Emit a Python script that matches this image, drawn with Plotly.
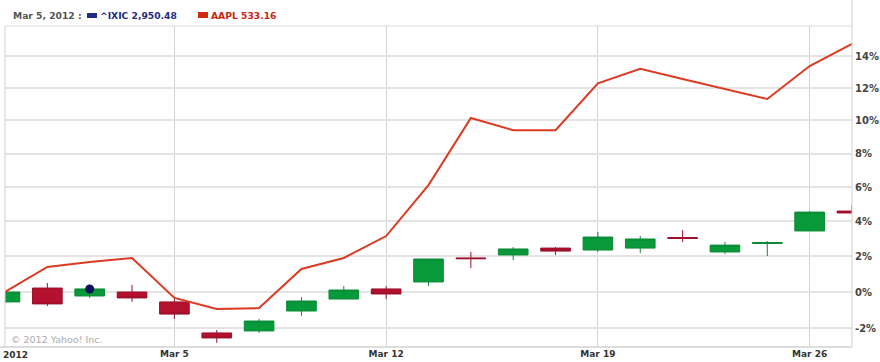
import math
import plotly.graph_objects as go

# ---- data (percent change) ----
dates = ["2012-02-28", "2012-02-29", "2012-03-01", "2012-03-02", "2012-03-05",
         "2012-03-06", "2012-03-07", "2012-03-08", "2012-03-09", "2012-03-12",
         "2012-03-13", "2012-03-14", "2012-03-15", "2012-03-16", "2012-03-19",
         "2012-03-20", "2012-03-21", "2012-03-22", "2012-03-23", "2012-03-26",
         "2012-03-27"]
ixic_open = [-0.55, 0.22, -0.22, 0.00, -0.55, -2.25, -2.14, -1.05, -0.39, 0.17,
             0.56, 1.91, 2.08, 2.47, 2.36, 2.47, 3.07, 2.25, 2.73, 3.45, 4.60]
ixic_high = [0.05, 0.50, 0.33, 0.39, -0.39, -2.09, -1.49, -0.28, 0.33, 0.33,
             1.85, 2.25, 2.53, 2.53, 3.39, 3.16, 3.50, 2.82, 2.87, 4.60, 4.95]
ixic_low = [-0.60, -0.78, -0.33, -0.55, -1.49, -2.79, -2.25, -1.32, -0.39, -0.39,
            0.33, 1.34, 1.79, 2.08, 2.25, 2.19, 2.82, 2.13, 2.02, 3.45, 4.43]
ixic_close = [0.00, -0.66, 0.17, -0.33, -1.22, -2.52, -1.60, -0.50, 0.11, -0.11,
              1.85, 1.87, 2.42, 2.30, 3.10, 2.99, 3.02, 2.64, 2.79, 4.54, 4.49]
aapl = [0.00, 1.40, 1.68, 1.91, -0.33, -0.94, -0.89, 1.29, 1.91, 3.16,
        6.12, 10.15, 9.41, 9.41, 12.30, 13.20, 12.57, 11.93, 11.32, 13.38, 14.78]
marker_date = ["2012-03-01"]
marker_val = [0.17]

tick_dates = ["2012-03-05", "2012-03-12", "2012-03-19", "2012-03-26"]
tick_text = ["Mar 5", "Mar 12", "Mar 19", "Mar 26"]
y_ticks = [-2, 0, 2, 4, 6, 8, 10, 12, 14]


def f(vals):
    return [1 + v / 100.0 for v in vals]


W, H = 880, 362
L, R, T, B = 5, 28, 26, 15
PW, PH = W - L - R, H - T - B


def px(x):
    return (x - L) / PW


def py(y):
    return (H - B - y) / PH


fig = go.Figure()
fig.add_trace(go.Candlestick(
    x=dates, open=f(ixic_open), high=f(ixic_high), low=f(ixic_low), close=f(ixic_close),
    increasing=dict(fillcolor="#08993B", line=dict(color="#0B8A36", width=1)),
    decreasing=dict(fillcolor="#B3112E", line=dict(color="#9A0F2C", width=1)),
    whiskerwidth=0, showlegend=False, hoverinfo="skip"))
fig.add_trace(go.Scatter(
    x=dates, y=f(aapl), mode="lines",
    line=dict(color="#DC3A22", width=2), showlegend=False, hoverinfo="skip"))
fig.add_trace(go.Scatter(
    x=marker_date, y=f(marker_val), mode="markers",
    marker=dict(color="#10105E", size=9), showlegend=False, hoverinfo="skip"))

lo, hi = 0.9699, 1.1593
fig.update_layout(
    width=W, height=H,
    margin=dict(l=L, r=R, t=T, b=B, autoexpand=False),
    paper_bgcolor="white", plot_bgcolor="white",
    font=dict(family="DejaVu Sans", color="#333"),
    boxgap=0.3, boxgroupgap=0,
    xaxis=dict(type="category", categoryorder="array", categoryarray=dates,
               range=[0, len(dates) - 1], rangeslider=dict(visible=False),
               tickvals=tick_dates, ticktext=tick_text, showgrid=True,
               gridcolor="#d4d4d4", gridwidth=1, zeroline=False, showline=False,
               ticks="", tickfont=dict(size=9, color="#333", weight="bold"),
               automargin=False, fixedrange=True),
    yaxis=dict(type="log", range=[math.log10(lo), math.log10(hi)], side="right",
               tickvals=f(y_ticks), ticktext=[f"{v}%" for v in y_ticks],
               showgrid=True, gridcolor="#e4e4e4", gridwidth=2, zeroline=False,
               showline=False, ticks="", ticklabelstandoff=2,
               tickfont=dict(size=10, color="#444", weight="bold"),
               automargin=False, fixedrange=True),
    shapes=[
        dict(type="line", xref="paper", yref="paper", x0=0, x1=0, y0=0, y1=1,
             line=dict(color="#d0d0d0", width=1)),
        dict(type="line", xref="paper", yref="paper", x0=0, x1=1, y0=1, y1=1,
             line=dict(color="#dddddd", width=1)),
        dict(type="line", xref="paper", yref="paper", x0=1, x1=1, y0=0, y1=py(0),
             line=dict(color="#d0d0d0", width=1)),
        dict(type="line", xref="paper", yref="paper", x0=px(0), x1=1, y0=0, y1=0,
             line=dict(color="#dddddd", width=2)),
        dict(type="rect", xref="paper", yref="paper", x0=px(87), x1=px(97),
             y0=py(18), y1=py(13), fillcolor="#1F2C80", line=dict(width=0)),
        dict(type="rect", xref="paper", yref="paper", x0=px(198), x1=px(208),
             y0=py(18), y1=py(12), fillcolor="#D02A10", line=dict(width=0)),
    ],
    annotations=[
        dict(text="Mar 5, 2012 :", xref="paper", yref="paper", x=px(11), y=py(15),
             xanchor="left", yanchor="middle", showarrow=False,
             font=dict(size=9.2, color="#555", weight="bold")),
        dict(text="^IXIC 2,950.48", xref="paper", yref="paper", x=px(98), y=py(15),
             xanchor="left", yanchor="middle", showarrow=False,
             font=dict(size=9.2, color="#1F2C80", weight="bold")),
        dict(text="AAPL 533.16", xref="paper", yref="paper", x=px(209), y=py(15),
             xanchor="left", yanchor="middle", showarrow=False,
             font=dict(size=9.2, color="#C8260E", weight="bold")),
        dict(text="© 2012 Yahoo! Inc.", xref="paper", yref="paper", x=px(9), y=py(339),
             xanchor="left", yanchor="middle", showarrow=False,
             font=dict(size=9.5, color="#aaaaaa")),
        dict(text="2012", xref="paper", yref="paper", x=px(1), y=py(355),
             xanchor="left", yanchor="middle", showarrow=False,
             font=dict(size=9, color="#333", weight="bold")),
    ],
)

fig.write_html("out.html")
